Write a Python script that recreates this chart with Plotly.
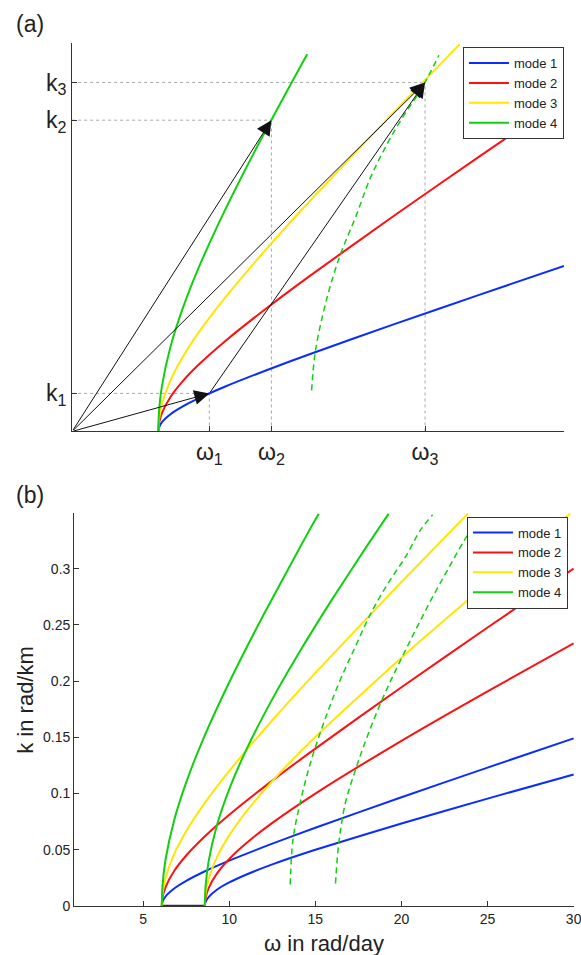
import plotly.graph_objects as go

# ---- panel (b) data: dispersion curves k(omega), two cases ----
# case 1 (cutoff ~6.08 rad/day)
w1_m1 = [6.08, 6.12, 6.3, 6.8, 7.5, 8.5, 10, 12.5, 15, 20, 25, 30]
k1_m1 = [0, 0.0035, 0.0084, 0.0155, 0.0223, 0.0302, 0.0403, 0.0554, 0.0696, 0.0967, 0.1231, 0.1491]
w1_m2 = [6.08, 6.12, 6.3, 6.8, 7.5, 8.5, 10, 12.5, 15, 20, 25, 30]
k1_m2 = [0, 0.0071, 0.0168, 0.0311, 0.0449, 0.0607, 0.0811, 0.1115, 0.140, 0.1946, 0.2477, 0.3001]
w1_m3 = [6.08, 6.12, 6.3, 6.8, 7.5, 8.5, 10, 12.5, 15, 20, 23.86]
k1_m3 = [0, 0.0105, 0.0249, 0.0461, 0.0664, 0.0899, 0.1201, 0.1652, 0.2074, 0.2882, 0.349]
w1_m4 = [6.08, 6.12, 6.3, 6.8, 7.5, 8.5, 10, 12, 14, 14.86, 15.2]
k1_m4 = [0, 0.0174, 0.0413, 0.0763, 0.110, 0.1489, 0.199, 0.2593, 0.316, 0.340, 0.349]

# case 2 (cutoff ~8.58 rad/day)
w2_m1 = [8.58, 8.62, 8.8, 9.3, 10, 11, 12.5, 15, 20, 25, 30]
k2_m1 = [0, 0.0034, 0.0079, 0.0146, 0.0209, 0.0280, 0.0370, 0.050, 0.0734, 0.0955, 0.1169]
w2_m2 = [8.58, 8.62, 8.8, 9.3, 10, 11, 12.5, 15, 20, 25, 30]
k2_m2 = [0, 0.0067, 0.0159, 0.0292, 0.0418, 0.056, 0.0739, 0.100, 0.1469, 0.1909, 0.2337]
w2_m3 = [8.58, 8.62, 8.8, 9.3, 10, 11, 12.5, 15, 20, 25, 29.8]
k2_m3 = [0, 0.0101, 0.0239, 0.0439, 0.0628, 0.0841, 0.1111, 0.1504, 0.2209, 0.2870, 0.349]
w2_m4 = [8.58, 8.62, 8.8, 9.3, 10, 11, 12.5, 14, 16, 18, 19.25]
k2_m4 = [0, 0.0168, 0.0396, 0.0726, 0.104, 0.1393, 0.184, 0.2239, 0.2734, 0.3203, 0.3488]

# dashed green curves
wd_b1 = [13.54, 13.70, 14.12, 14.71, 15.49, 16.36, 17.33, 18.21, 19.18, 20.25, 21.13, 21.81]
kd_b1 = [0.019, 0.059, 0.092, 0.127, 0.163, 0.198, 0.231, 0.260, 0.286, 0.311, 0.335, 0.348]
wd_b2 = [16.17, 16.36, 16.75, 17.33, 18.02, 18.89, 19.77, 20.74, 21.71, 22.68, 23.56, 24.05]
kd_b2 = [0.020, 0.056, 0.092, 0.121, 0.151, 0.184, 0.213, 0.243, 0.272, 0.299, 0.323, 0.335]
wd_a = [15.12, 15.35, 16.04, 16.83, 17.71, 18.6, 19.59, 20.57, 21.55, 22.63]
kd_a = [0.037, 0.073, 0.121, 0.160, 0.193, 0.229, 0.2595, 0.285, 0.3076, 0.339]

# triad in panel (a)
w_tri = [9.09, 12.75, 21.81]
k_tri = [0.0343, 0.2805, 0.3145]
w_tick_text = ["ω<sub>1</sub>", "ω<sub>2</sub>", "ω<sub>3</sub>"]
k_tick_text = ["k<sub>1</sub>", "k<sub>2</sub>", "k<sub>3</sub>"]

b_xticks = [5, 10, 15, 20, 25, 30]
b_yticks = [0, 0.05, 0.1, 0.15, 0.2, 0.25, 0.3]
b_yticktext = ["0", "0.05", "0.1", "0.15", "0.2", "0.25", "0.3"]

mode_names = ["mode 1", "mode 2", "mode 3", "mode 4"]
colors = ["#0a2cff", "#ff1010", "#ffe600", "#10d010"]

FONT = "Liberation Sans"

# figure is a little larger than the window; the overflow is hidden
W, H = 590, 964
REF_W, REF_H = 581, 955


def px(x):
    return x / REF_W


def py(y):
    return 1 - y / REF_H


fig = go.Figure()

case1 = [(w1_m1, k1_m1), (w1_m2, k1_m2), (w1_m3, k1_m3), (w1_m4, k1_m4)]
case2 = [(w2_m1, k2_m1), (w2_m2, k2_m2), (w2_m3, k2_m3), (w2_m4, k2_m4)]

# panel (a) guide lines (dotted)
for w, k in zip(w_tri, k_tri):
    fig.add_trace(go.Scatter(x=[1, w], y=[k, k], mode="lines", xaxis="x", yaxis="y",
                             line=dict(color="#a8a8a8", width=1, dash="dot"), showlegend=False))
    fig.add_trace(go.Scatter(x=[w, w], y=[0, k], mode="lines", xaxis="x", yaxis="y",
                             line=dict(color="#a8a8a8", width=1, dash="dot"), showlegend=False))

# panel (a) curves
for i, (w, k) in enumerate(case1):
    if i == 3:
        w, k = w[:-1], k[:-1]
    fig.add_trace(go.Scatter(x=w, y=k, mode="lines", name=mode_names[i], xaxis="x", yaxis="y",
                             line=dict(color=colors[i], width=2, shape="spline", smoothing=0.6),
                             legend="legend"))
fig.add_trace(go.Scatter(x=wd_a, y=kd_a, mode="lines", xaxis="x", yaxis="y", showlegend=False,
                         line=dict(color=colors[3], width=1.5, dash="6px,4px", shape="spline")))

# panel (b)
fig.add_trace(go.Scatter(x=[w1_m1[0], w2_m1[0]], y=[0, 0], mode="lines", xaxis="x2", yaxis="y2",
                         line=dict(color="#333333", width=2.5), showlegend=False))
for i, (w, k) in enumerate(case1):
    fig.add_trace(go.Scatter(x=w, y=k, mode="lines", name=mode_names[i], xaxis="x2", yaxis="y2",
                             line=dict(color=colors[i], width=2, shape="spline", smoothing=0.6),
                             legend="legend2"))
for i, (w, k) in enumerate(case2):
    fig.add_trace(go.Scatter(x=w, y=k, mode="lines", name=mode_names[i], xaxis="x2", yaxis="y2",
                             line=dict(color=colors[i], width=2, shape="spline", smoothing=0.6),
                             showlegend=False))
for w, k in [(wd_b1, kd_b1), (wd_b2, kd_b2)]:
    fig.add_trace(go.Scatter(x=w, y=k, mode="lines", xaxis="x2", yaxis="y2", showlegend=False,
                             line=dict(color=colors[3], width=1.5, dash="6px,4px", shape="spline")))

# arrows in panel (a)
arrows = [((1, 0), (w_tri[0], k_tri[0])),
          ((1, 0), (w_tri[1], k_tri[1])),
          ((1, 0), (w_tri[2], k_tri[2])),
          ((w_tri[0], k_tri[0]), (w_tri[2], k_tri[2]))]
for (x0, y0), (x1, y1) in arrows:
    fig.add_annotation(x=x1, y=y1, ax=x0, ay=y0, xref="x", yref="y", axref="x", ayref="y",
                       text="", showarrow=True, arrowhead=2, arrowsize=3, arrowwidth=1,
                       arrowcolor="#111111")

fig.add_annotation(text="(a)", x=px(14), y=py(24), xref="paper", yref="paper",
                   xanchor="left", yanchor="middle", showarrow=False, font=dict(size=23))
fig.add_annotation(text="(b)", x=px(14), y=py(494), xref="paper", yref="paper",
                   xanchor="left", yanchor="middle", showarrow=False, font=dict(size=23))

# axis titles of panel (b)
fig.add_annotation(text="ω in rad/day", x=px(323), y=py(943), xref="paper", yref="paper",
                   xanchor="center", yanchor="middle", showarrow=False, font=dict(size=22))
fig.add_annotation(text="k in rad/km", x=px(26), y=py(699), xref="paper", yref="paper",
                   xanchor="center", yanchor="middle", showarrow=False, textangle=-90,
                   font=dict(size=22))

axis_common = dict(showline=True, linecolor="#333333", linewidth=1, mirror=False,
                   showgrid=False, zeroline=False, ticks="inside", ticklen=5,
                   tickcolor="#333333", tickwidth=1, ticklabeloverflow="allow")

legend_common = dict(xanchor="right", yanchor="top", bgcolor="white", bordercolor="#333333",
                     borderwidth=1, font=dict(size=13, family=FONT, color="#222222"),
                     itemwidth=40, tracegroupgap=0)

fig.update_layout(
    width=W, height=H,
    margin=dict(l=0, r=0, t=0, b=0),
    paper_bgcolor="white", plot_bgcolor="white",
    font=dict(family=FONT, color="#222222"),
    xaxis=dict(domain=[px(72), px(563)], anchor="y", range=[1, 30],
               tickvals=w_tri, ticktext=w_tick_text, tickfont=dict(size=23), **axis_common),
    yaxis=dict(domain=[py(431), py(43)], anchor="x", range=[0, 0.35],
               tickvals=k_tri, ticktext=k_tick_text, tickfont=dict(size=23), **axis_common),
    xaxis2=dict(domain=[px(74), px(573)], anchor="y2", range=[0.99, 30.02],
                tickvals=b_xticks, tickfont=dict(size=14), **axis_common),
    yaxis2=dict(domain=[py(905), py(512)], anchor="x2", range=[0, 0.35],
                tickvals=b_yticks, ticktext=b_yticktext, tickfont=dict(size=14), **axis_common),
    legend=dict(x=px(563), y=py(47), **legend_common),
    legend2=dict(x=px(567), y=py(516), **legend_common),
)

# drop the default page margin and scrollbars
page_js = ("document.documentElement.style.overflow='hidden';"
           "document.body.style.overflow='hidden';"
           "document.body.style.margin='0';")
fig.write_html("out.html", post_script=page_js, config={"displayModeBar": False})
